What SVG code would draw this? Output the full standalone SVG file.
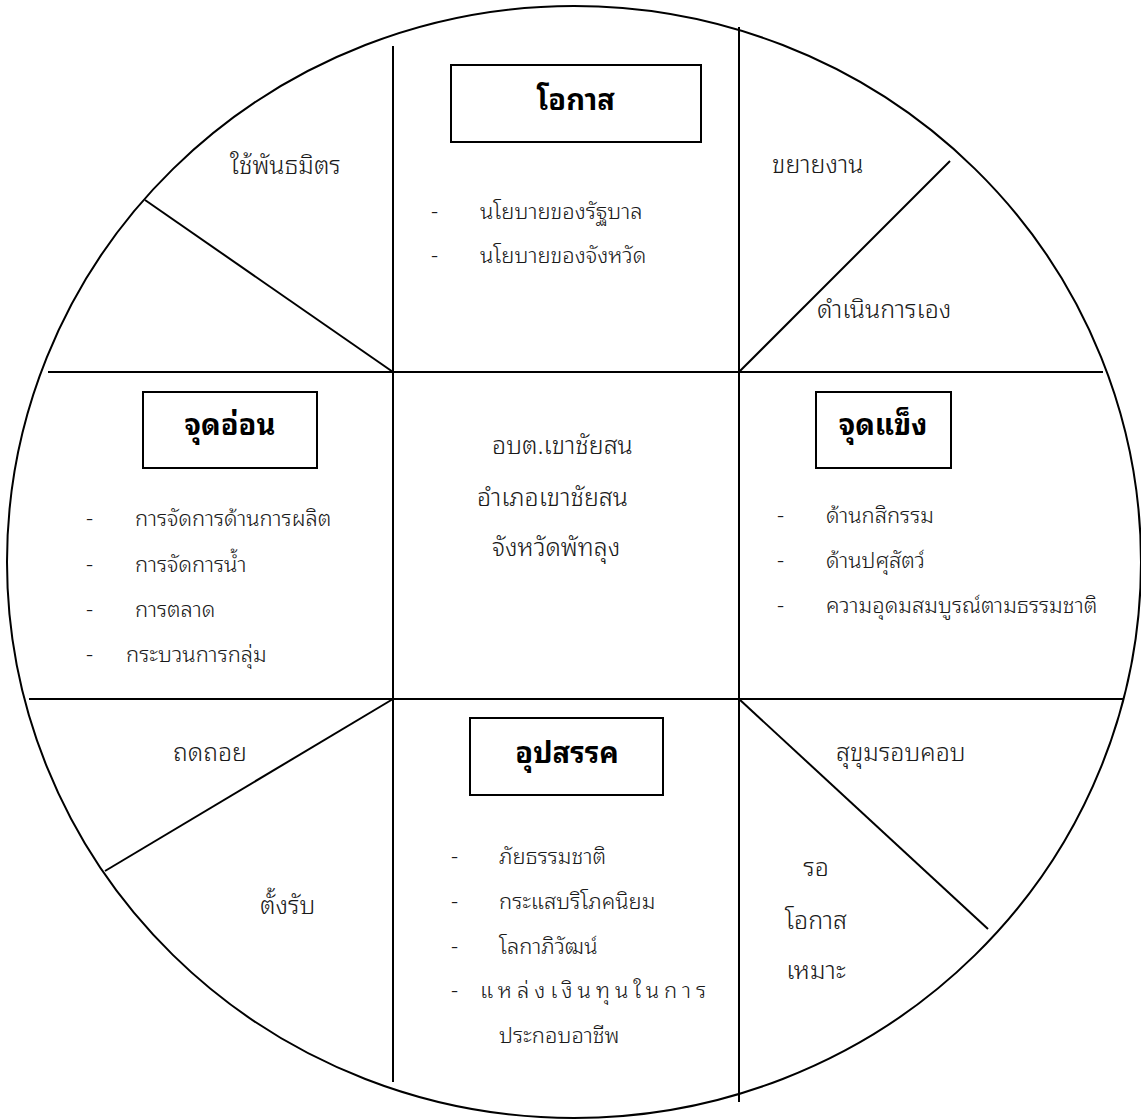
<svg xmlns="http://www.w3.org/2000/svg" width="1141" height="1119" viewBox="0 0 1141 1119">
<style>
.ln{stroke:#000;stroke-width:2;fill:none}
.box{stroke:#000;stroke-width:2;fill:#fff}
text{font-family:"Noto Sans Thai Looped","Loma","Garuda","Noto Sans Thai","Noto Sans","DejaVu Sans",sans-serif;font-size:22px;font-weight:300;fill:#1a1a1a}
.t{font-weight:bold;font-size:29px;text-anchor:middle;fill:#000}
.c{text-anchor:middle}
.s{font-size:25px}
</style>
<rect width="1141" height="1119" fill="#fff"/>
<g id="connectors">
<ellipse class="ln" cx="574" cy="562" rx="567" ry="556"/>
<line class="ln" x1="48" y1="372" x2="1103" y2="372"/>
<line class="ln" x1="29" y1="699" x2="1123" y2="699"/>
<line class="ln" x1="393" y1="46" x2="393" y2="1082"/>
<line class="ln" x1="739" y1="27" x2="739" y2="1102"/>
<line class="ln" x1="145" y1="200" x2="393" y2="372"/>
<line class="ln" x1="739" y1="372" x2="950" y2="161"/>
<line class="ln" x1="393" y1="699" x2="105" y2="871"/>
<line class="ln" x1="739" y1="699" x2="988" y2="929"/>
</g>
<g id="opportunity">
<rect class="box" x="451" y="65" width="250" height="77"/>
<text class="t" x="576" y="110">โอกาส</text>
<text x="431" y="219">-</text><text x="480" y="219">นโยบายของรัฐบาล</text>
<text x="431" y="263">-</text><text x="480" y="263">นโยบายของจังหวัด</text>
</g>
<g id="weakness">
<rect class="box" x="143" y="392" width="174" height="76"/>
<text class="t" x="230" y="435">จุดอ่อน</text>
<text x="86" y="526">-</text><text x="135" y="526">การจัดการด้านการผลิต</text>
<text x="86" y="572">-</text><text x="135" y="572">การจัดการน้ำ</text>
<text x="86" y="617">-</text><text x="135" y="617">การตลาด</text>
<text x="86" y="662">-</text><text x="126" y="662">กระบวนการกลุ่ม</text>
</g>
<g id="center">
<text class="s" x="492" y="454">อบต.เขาชัยสน</text>
<text class="s" x="477" y="506">อำเภอเขาชัยสน</text>
<text class="s" x="492" y="556">จังหวัดพัทลุง</text>
</g>
<g id="strength">
<rect class="box" x="816" y="392" width="135" height="76"/>
<text class="t" x="883" y="435">จุดแข็ง</text>
<text x="777" y="523">-</text><text x="826" y="523">ด้านกสิกรรม</text>
<text x="777" y="568">-</text><text x="826" y="568">ด้านปศุสัตว์</text>
<text x="777" y="613">-</text><text x="826" y="613">ความอุดมสมบูรณ์ตามธรรมชาติ</text>
</g>
<g id="threat">
<rect class="box" x="470" y="718" width="193" height="77"/>
<text class="t" x="567" y="763">อุปสรรค</text>
<text x="451" y="864">-</text><text x="499" y="864">ภัยธรรมชาติ</text>
<text x="451" y="909">-</text><text x="499" y="909">กระแสบริโภคนิยม</text>
<text x="451" y="954">-</text><text x="499" y="954">โลกาภิวัฒน์</text>
<text x="451" y="998">-</text><text x="480" y="998" letter-spacing="5">แหล่งเงินทุนในการ</text>
<text x="499" y="1043">ประกอบอาชีพ</text>
</g>
<g id="strategy-ally"><text class="s" x="230" y="174">ใช้พันธมิตร</text></g>
<g id="strategy-expand"><text class="s" x="772" y="173">ขยายงาน</text></g>
<g id="strategy-self"><text class="s" x="817" y="318">ดำเนินการเอง</text></g>
<g id="strategy-retreat"><text class="s" x="173" y="761">ถดถอย</text></g>
<g id="strategy-defend"><text class="s" x="260" y="914">ตั้งรับ</text></g>
<g id="strategy-careful"><text class="s" x="836" y="761">สุขุมรอบคอบ</text></g>
<g id="strategy-wait">
<text class="c s" x="816" y="876">รอ</text>
<text class="c s" x="816" y="929">โอกาส</text>
<text class="c s" x="816" y="979">เหมาะ</text>
</g>
</svg>
